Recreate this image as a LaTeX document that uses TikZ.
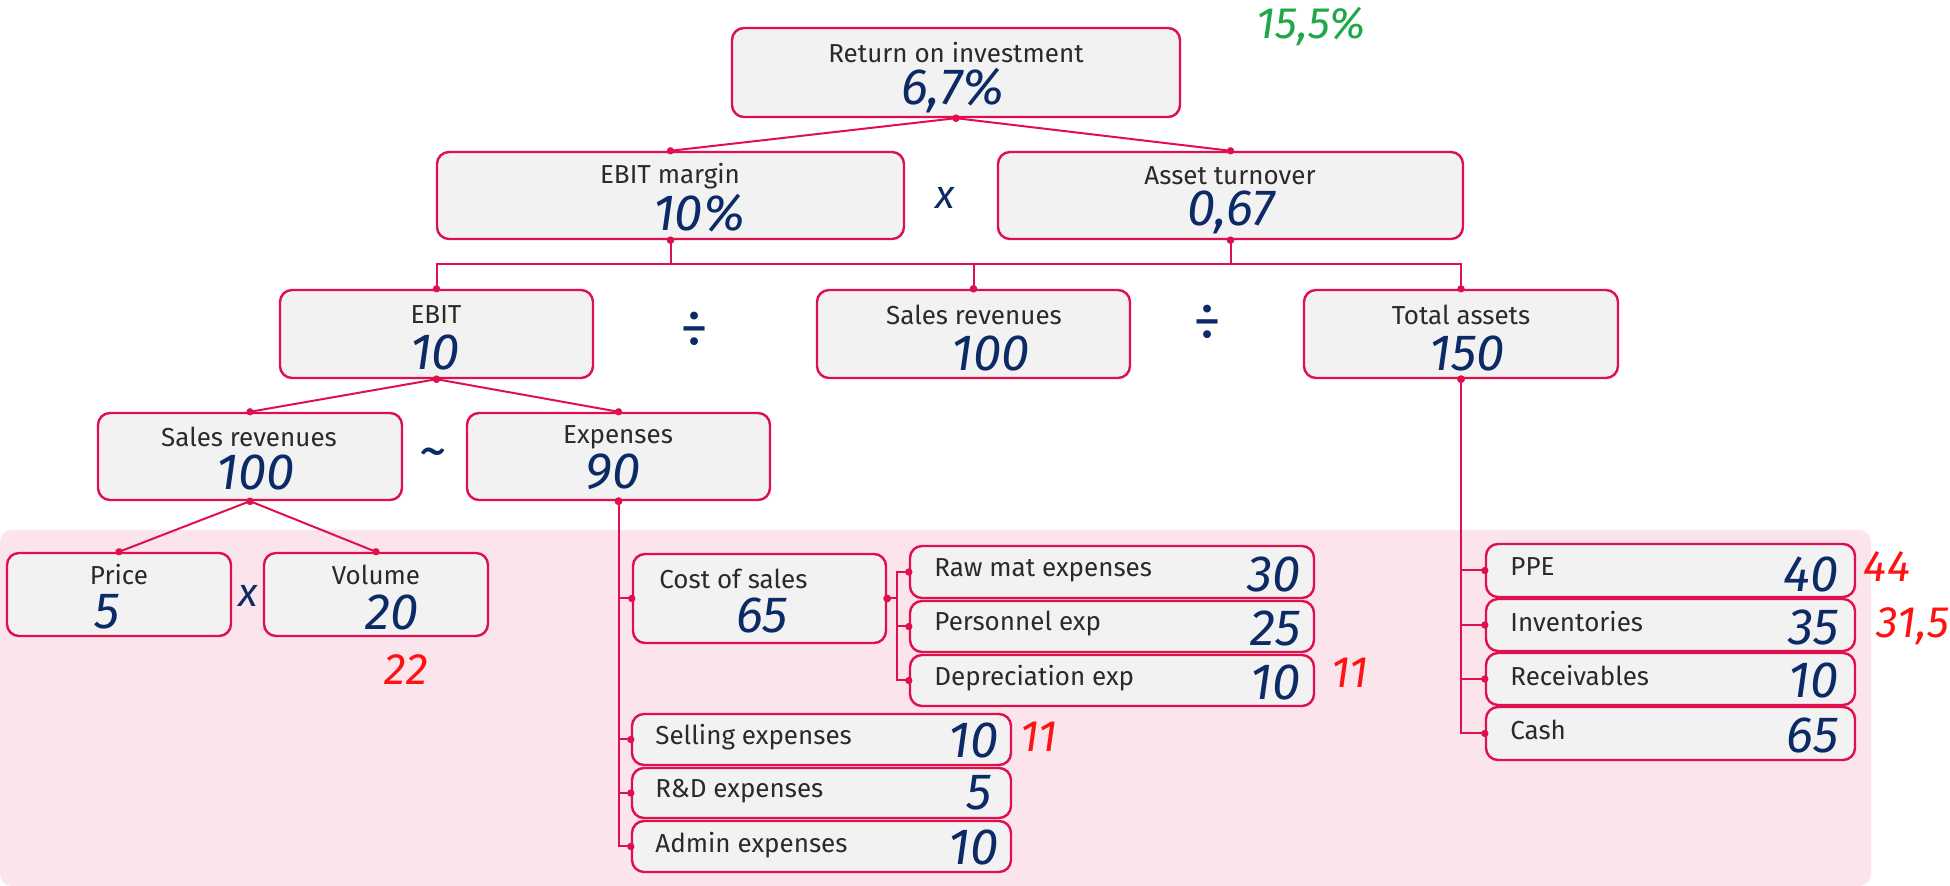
\documentclass[tikz,border=0pt]{standalone}
\usepackage{fontspec}
\setmainfont{Fira Sans}
\newcommand\hand{\itshape}
\usetikzlibrary{arrows.meta,fit}

\definecolor{accent}{HTML}{E0104F}
\definecolor{boxfill}{HTML}{F2F2F2}
\definecolor{pinkbg}{HTML}{FCE4EC}
\definecolor{ink}{HTML}{0C2A66}
\definecolor{redink}{HTML}{FF1212}
\definecolor{greenink}{HTML}{1EA84A}
\definecolor{txt}{HTML}{2A2A2A}

\begin{document}
\begin{tikzpicture}[x=0.5pt,y=-0.5pt,
  box/.style={draw=accent, line width=1.2pt, fill=boxfill, rounded corners=6pt, inner sep=0pt},
  lbl/.style={text=txt, font=\fontsize{13pt}{15pt}\selectfont, inner sep=0pt},
  lbll/.style={lbl, anchor=west},
  val/.style={text=ink, font=\hand\fontsize{25.5pt}{28pt}\selectfont, inner sep=0pt},
  valr/.style={val, anchor=east},
  note/.style={font=\hand\fontsize{22pt}{24pt}\selectfont, inner sep=0pt},
  opsign/.style={text=ink, font=\hand\fontsize{20pt}{22pt}\selectfont, inner sep=0pt},
  divsign/.style={text=ink, font=\fontsize{28pt}{30pt}\selectfont, inner sep=0pt},
  conn/.style={draw=accent, line width=1pt, arrows={Circle[length=3.6pt]-Circle[length=3.6pt]},
    shorten <=-1.8pt, shorten >=-1.8pt}]
\useasboundingbox (0,0) rectangle (1950,886);

% shaded lower band
\fill[pinkbg, rounded corners=6pt] (0,530) rectangle (1871,886);

% ---- boxes ----
\node[box, fit={(732,28) (1180,117)}] (roi) {};
\node[box, fit={(437,152) (904,239)}] (ebm) {};
\node[box, fit={(998,152) (1463,239)}] (atu) {};
\node[box, fit={(280,290) (593,378)}] (ebit) {};
\node[box, fit={(817,290) (1130,378)}] (srv) {};
\node[box, fit={(1304,290) (1618,378)}] (tas) {};
\node[box, fit={(98,413) (402,500)}] (srl) {};
\node[box, fit={(467,413) (770,500)}] (exp) {};
\node[box, fit={(7,553) (231,636)}] (pri) {};
\node[box, fit={(264,553) (488,636)}] (vol) {};
\node[box, fit={(633,554) (886,643)}] (cos) {};
\node[box, fit={(910,546) (1314,598)}] (raw) {};
\node[box, fit={(910,601) (1314,652)}] (per) {};
\node[box, fit={(910,655) (1314,706)}] (dep) {};
\node[box, fit={(632,714) (1011,765)}] (sel) {};
\node[box, fit={(632,768) (1011,818)}] (rnd) {};
\node[box, fit={(632,821) (1011,872)}] (adm) {};
\node[box, fit={(1486,544) (1855,597)}] (ppe) {};
\node[box, fit={(1486,599) (1855,651)}] (inv) {};
\node[box, fit={(1486,653) (1855,705)}] (rec) {};
\node[box, fit={(1486,707) (1855,760)}] (csh) {};

% ---- connectors ----
\coordinate (bus) at (0,264);
\coordinate (cb) at (897,598.5);
\draw[conn] (roi.south) -- (ebm.north);
\draw[conn] (roi.south) -- (atu.north);
\draw[conn] (ebm.south) -- (ebm.south |- bus) -| (ebit.north);
\draw[conn] (ebm.south) -- (ebm.south |- bus) -| (srv.north);
\draw[conn] (atu.south) -- (atu.south |- bus) -| (srv.north);
\draw[conn] (atu.south) -- (atu.south |- bus) -| (tas.north);
\draw[conn] (ebit.south) -- (srl.north);
\draw[conn] (ebit.south) -- (exp.north);
\draw[conn] (srl.south) -- (pri.north);
\draw[conn] (srl.south) -- (vol.north);
\draw[conn] (exp.south) |- (cos.west);
\draw[conn] (exp.south) |- (sel.west);
\draw[conn] (exp.south) |- (rnd.west);
\draw[conn] (exp.south) |- (adm.west);
\draw[conn] (cos.east) -- (cb) |- (raw.west);
\draw[conn] (cos.east) -- (cb) |- (per.west);
\draw[conn] (cos.east) -- (cb) |- (dep.west);
\draw[conn] (tas.south) |- (ppe.west);
\draw[conn] (tas.south) |- (inv.west);
\draw[conn] (tas.south) |- (rec.west);
\draw[conn] (tas.south) |- (csh.west);

% ---- labels and values ----
\node[lbl] (roiL) at (956,53) {Return on investment};
\node[val] (roiV) at (953,91) {6,7\%};
\node[note, text=greenink] (roiN) at (1311,27) {15,5\%};

\node[lbl] (ebmL) at (670,176) {EBIT margin};
\node[val] (ebmV) at (699,213) {10\%};
\node[lbl] (atuL) at (1230,176) {Asset turnover};
\node[val] (atuV) at (1231,212) {0,67};
\node[opsign] (op1) at (945,198) {x};

\node[lbl] (ebitL) at (436,315) {EBIT};
\node[val] (ebitV) at (435,352) {10};
\node[lbl] (srvL) at (974,315) {Sales revenues};
\node[val] (srvV) at (991,353) {100};
\node[lbl] (tasL) at (1461,315) {Total assets};
\node[val] (tasV) at (1467,353) {150};
\node[divsign] (op2) at (694,330) {÷};
\node[divsign] (op3) at (1207,323) {÷};

\node[lbl] (srlL) at (249,437) {Sales revenues};
\node[val] (srlV) at (256,472) {100};
\node[lbl] (expL) at (618,437) {Expenses};
\node[val] (expV) at (613,472) {90};
\node[divsign] (op4) at (433,459) {\textasciitilde};

\node[lbl] (priL) at (119,575) {Price};
\node[val] (priV) at (107,612) {5};
\node[lbl] (volL) at (376,575) {Volume};
\node[val] (volV) at (392,612) {20};
\node[opsign] (op5) at (248,596) {x};
\node[note, text=redink] (volN) at (406,670) {22};

\node[lbll] (cosL) at (659,579) {Cost of sales};
\node[val] (cosV) at (762,615) {65};

\node[lbll] (rawL) at (934,570) {Raw mat expenses};
\node[valr] (rawV) at (1301,574) {30};
\node[lbll] (perL) at (934,624) {Personnel exp};
\node[valr] (perV) at (1301,628) {25};
\node[lbll] (depL) at (934,678) {Depreciation exp};
\node[valr] (depV) at (1301,682) {10};
\node[note, text=redink] (depN) at (1350,673) {11};

\node[lbll] (selL) at (655,737) {Selling expenses};
\node[valr] (selV) at (999,740) {10};
\node[note, text=redink] (selN) at (1039,737) {11};
\node[lbll] (rndL) at (655,791) {R\&D expenses};
\node[valr] (rndV) at (992,793) {5};
\node[lbll] (admL) at (655,845) {Admin expenses};
\node[valr] (admV) at (999,847) {10};

\node[lbll] (ppeL) at (1510,567) {PPE};
\node[valr] (ppeV) at (1839,574) {40};
\node[note, text=redink] (ppeN) at (1887,567) {44};
\node[lbll] (invL) at (1510,622) {Inventories};
\node[valr] (invV) at (1839,627) {35};
\node[note, text=redink] (invN) at (1913,626) {31,5};
\node[lbll] (recL) at (1510,676) {Receivables};
\node[valr] (recV) at (1839,680) {10};
\node[lbll] (cshL) at (1510,730) {Cash};
\node[valr] (cshV) at (1839,735) {65};
\end{tikzpicture}
\end{document}
